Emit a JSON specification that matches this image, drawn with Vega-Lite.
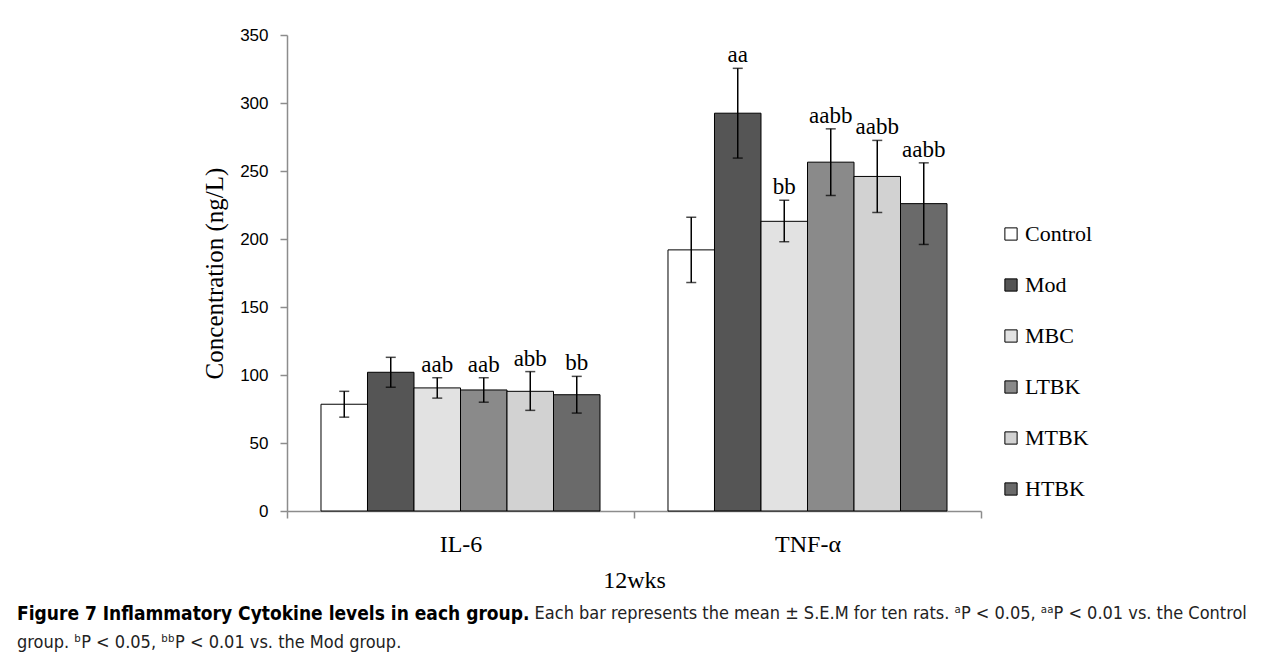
{
  "$schema": "https://vega.github.io/schema/vega-lite/v6.json",
  "width": 694,
  "height": 476,
  "autosize": "none",
  "padding": {"left": 287, "top": 35, "right": 300, "bottom": 147},
  "background": "white",
  "data": {
    "values": [
      {"cytokine": "IL-6", "group": "Control", "mean": 78.5, "lo": 69, "hi": 88, "sig": ""},
      {"cytokine": "IL-6", "group": "Mod", "mean": 102, "lo": 91, "hi": 113, "sig": ""},
      {"cytokine": "IL-6", "group": "MBC", "mean": 90.5, "lo": 83, "hi": 98, "sig": "aab"},
      {"cytokine": "IL-6", "group": "LTBK", "mean": 89, "lo": 80, "hi": 98, "sig": "aab"},
      {"cytokine": "IL-6", "group": "MTBK", "mean": 88, "lo": 74, "hi": 102.5, "sig": "abb"},
      {"cytokine": "IL-6", "group": "HTBK", "mean": 85.5, "lo": 72, "hi": 99, "sig": "bb"},
      {"cytokine": "TNF-α", "group": "Control", "mean": 192, "lo": 168, "hi": 216, "sig": ""},
      {"cytokine": "TNF-α", "group": "Mod", "mean": 292.5, "lo": 259.5, "hi": 325.5, "sig": "aa"},
      {"cytokine": "TNF-α", "group": "MBC", "mean": 213, "lo": 198, "hi": 228.5, "sig": "bb"},
      {"cytokine": "TNF-α", "group": "LTBK", "mean": 256.5, "lo": 232, "hi": 281, "sig": "aabb"},
      {"cytokine": "TNF-α", "group": "MTBK", "mean": 246, "lo": 219.5, "hi": 272.5, "sig": "aabb"},
      {"cytokine": "TNF-α", "group": "HTBK", "mean": 226, "lo": 196, "hi": 256, "sig": "aabb"}
    ]
  },
  "encoding": {
    "x": {
      "field": "cytokine",
      "type": "nominal",
      "sort": ["IL-6", "TNF-α"],
      "title": "12wks",
      "scale": {"paddingInner": 0, "paddingOuter": 0},
      "axis": {
        "labelAngle": 0,
        "labelFont": "Liberation Serif",
        "labelFontSize": 24,
        "labelColor": "black",
        "labelPadding": 14,
        "tickBand": "extent",
        "tickSize": 7,
        "tickColor": "#8c8c8c",
        "tickWidth": 1.5,
        "domainColor": "#8c8c8c",
        "domainWidth": 1.5,
        "titleFont": "Liberation Serif",
        "titleFontSize": 24,
        "titleFontWeight": "normal",
        "titleColor": "black",
        "titlePadding": 12
      }
    },
    "xOffset": {
      "field": "group",
      "type": "nominal",
      "sort": ["Control", "Mod", "MBC", "LTBK", "MTBK", "HTBK"],
      "scale": {"paddingInner": 0, "paddingOuter": 0.731}
    }
  },
  "layer": [
    {
      "mark": {"type": "bar", "stroke": "black", "strokeWidth": 1},
      "encoding": {
        "y": {
          "field": "mean",
          "type": "quantitative",
          "title": "Concentration (ng/L)",
          "scale": {"domain": [0, 350], "nice": false},
          "axis": {
            "values": [0, 50, 100, 150, 200, 250, 300, 350],
            "grid": false,
            "labelFont": "Liberation Sans",
            "labelFontSize": 17,
            "labelColor": "black",
            "labelPadding": 12,
            "tickSize": 7,
            "tickColor": "#8c8c8c",
            "tickWidth": 1.5,
            "domainColor": "#8c8c8c",
            "domainWidth": 1.5,
            "titleFont": "Liberation Serif",
            "titleFontSize": 25,
            "titleFontWeight": "normal",
            "titleColor": "black",
            "titlePadding": 12
          }
        },
        "fill": {
          "field": "group",
          "type": "nominal",
          "sort": ["Control", "Mod", "MBC", "LTBK", "MTBK", "HTBK"],
          "scale": {
            "domain": ["Control", "Mod", "MBC", "LTBK", "MTBK", "HTBK"],
            "range": ["#ffffff", "#555555", "#e2e2e2", "#8a8a8a", "#d2d2d2", "#6a6a6a"]
          },
          "legend": {
            "title": null,
            "orient": "none",
            "legendX": 713,
            "legendY": 188,
            "symbolType": "square",
            "symbolSize": 150,
            "symbolStrokeColor": "black",
            "symbolStrokeWidth": 1,
            "labelFont": "Liberation Serif",
            "labelFontSize": 22,
            "labelColor": "black",
            "labelOffset": 3,
            "rowPadding": 29
          }
        }
      }
    },
    {
      "mark": {"type": "rule", "color": "black", "strokeWidth": 1.5},
      "encoding": {
        "y": {"field": "lo", "type": "quantitative", "title": "Concentration (ng/L)"},
        "y2": {"field": "hi"}
      }
    },
    {
      "mark": {"type": "tick", "color": "black", "thickness": 1.5, "size": 10},
      "encoding": {
        "y": {"field": "hi", "type": "quantitative", "title": "Concentration (ng/L)"}
      }
    },
    {
      "mark": {"type": "tick", "color": "black", "thickness": 1.5, "size": 10},
      "encoding": {
        "y": {"field": "lo", "type": "quantitative", "title": "Concentration (ng/L)"}
      }
    },
    {
      "mark": {"type": "text", "font": "Liberation Serif", "fontSize": 23, "baseline": "alphabetic", "dy": -6, "color": "black"},
      "encoding": {
        "y": {"field": "hi", "type": "quantitative", "title": "Concentration (ng/L)"},
        "text": {"field": "sig"}
      }
    }
  ],
  "title": {
    "text": "Figure 7 Inflammatory Cytokine levels in each group.",
    "subtitle": ["\u200b\u2003\u2003\u2003\u2003\u2003\u2003\u2003\u2003\u2003\u2003\u2003\u2003\u2003\u2003\u2003\u2003\u2003\u2003\u2003\u2003\u2003\u2003\u2003\u2003\u2003\u2003\u2003\u2003\u2003\u2003\u2003\u00a0\u00a0\u00a0Each bar represents the mean ± S.E.M for ten rats. ᵃP < 0.05, ᵃᵃP < 0.01 vs. the Control", "group. ᵇP < 0.05, ᵇᵇP < 0.01 vs. the Mod group."],
    "orient": "bottom",
    "anchor": "start",
    "frame": "group",
    "dx": -270,
    "offset": 13,
    "font": "Liberation Sans Narrow, DejaVu Sans Condensed, Roboto Condensed, Liberation Sans",
    "fontSize": 19,
    "fontWeight": "bold",
    "color": "black",
    "lineHeight": 29,
    "subtitleFont": "Liberation Sans Narrow, DejaVu Sans Condensed, Roboto Condensed, Liberation Sans",
    "subtitleFontSize": 18,
    "subtitleColor": "#222222",
    "subtitleLineHeight": 29,
    "subtitlePadding": -19
  },
  "config": {
    "view": {"stroke": null}
  }
}
